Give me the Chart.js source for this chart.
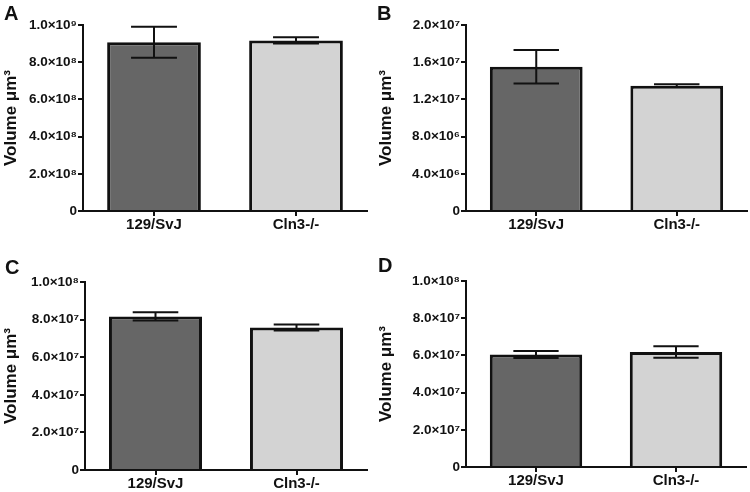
<!DOCTYPE html>
<html>
<head>
<meta charset="utf-8">
<script src="https://cdn.jsdelivr.net/npm/chart.js@4.4.1/dist/chart.umd.min.js"></script>
<style>
  body { margin: 0; background: #fff; }
  #wrap { position: relative; width: 750px; height: 492px; }
  .panel { position: absolute; width: 375px; height: 246px; }
  .tag { position: absolute; font: bold 20px "Liberation Sans", Arial, sans-serif; color: #111; }
</style>
</head>
<body>
<div id="wrap">
  <div class="panel" style="left:0;top:0"><canvas id="chartA" width="375" height="246"></canvas></div>
  <div class="panel" style="left:375px;top:0"><canvas id="chartB" width="375" height="246"></canvas></div>
  <div class="panel" style="left:0;top:246px"><canvas id="chartC" width="375" height="246"></canvas></div>
  <div class="panel" style="left:375px;top:246px"><canvas id="chartD" width="375" height="246"></canvas></div>
  <div class="tag" style="left:4px;top:2px">A</div>
  <div class="tag" style="left:377px;top:2px">B</div>
  <div class="tag" style="left:5px;top:256px">C</div>
  <div class="tag" style="left:378px;top:254px">D</div>
</div>
<script>
// categories and values (mean, +/- error)
var strains = ['129/SvJ', 'Cln3-/-'];

var volumeA = [9.07e8, 9.17e8];
var errorA = [0.83e8, 0.17e8];
var volumeB = [1.55e7, 1.347e7];
var errorB = [0.18e7, 0.015e7];
var volumeC = [8.17e7, 7.58e7];
var errorC = [0.22e7, 0.16e7];
var volumeD = [6.05e7, 6.18e7];
var errorD = [0.19e7, 0.31e7];

var ticksA = ['0', '2.0×10⁸', '4.0×10⁸', '6.0×10⁸', '8.0×10⁸', '1.0×10⁹'];
var ticksB = ['0', '4.0×10⁶', '8.0×10⁶', '1.2×10⁷', '1.6×10⁷', '2.0×10⁷'];
var ticksC = ['0', '2.0×10⁷', '4.0×10⁷', '6.0×10⁷', '8.0×10⁷', '1.0×10⁸'];
var ticksD = ['0', '2.0×10⁷', '4.0×10⁷', '6.0×10⁷', '8.0×10⁷', '1.0×10⁸'];

var FONT = '"Liberation Sans", Arial, sans-serif';
var INK = '#111';

// draws mean +/- error whiskers on top of each bar
var errorBars = {
    id: 'errorBars',
    afterDatasetsDraw: function (chart) {
        var ctx = chart.ctx;
        var y = chart.scales.y;
        var ds = chart.data.datasets[0];
        var meta = chart.getDatasetMeta(0);
        ctx.save();
        ctx.strokeStyle = INK;
        ctx.lineWidth = 2;
        meta.data.forEach(function (bar, i) {
            var hi = y.getPixelForValue(ds.data[i] + ds.errors[i]);
            var lo = y.getPixelForValue(ds.data[i] - ds.errors[i]);
            var half = bar.width * 0.245;
            ctx.beginPath();
            ctx.moveTo(bar.x, hi); ctx.lineTo(bar.x, lo);
            ctx.moveTo(bar.x - half, hi); ctx.lineTo(bar.x + half, hi);
            ctx.moveTo(bar.x - half, lo); ctx.lineTo(bar.x + half, lo);
            ctx.stroke();
        });
        ctx.restore();
    }
};

function makePanel(id, values, errors, tickLabels, box) {
    // tick values come from the label list: 0..max in 5 steps
    var max = parseFloat(tickLabels[5]) * Math.pow(10, box.exp);
    var step = max / 5;

    return new Chart(document.getElementById(id), {
        type: 'bar',
        data: {
            labels: strains,
            datasets: [{
                data: values,
                errors: errors,
                backgroundColor: ['#666666', '#d3d3d3'],
                borderColor: INK,
                borderWidth: 3,
                borderSkipped: 'bottom',
                barPercentage: 0.66,
                categoryPercentage: 1
            }]
        },
        options: {
            responsive: false,
            animation: false,
            layout: { padding: { top: box.top, right: 375 - box.right, left: 0, bottom: 0 } },
            plugins: { legend: { display: false }, tooltip: { enabled: false } },
            scales: {
                x: {
                    afterFit: function (s) { s.height = 246 - box.bottom; },
                    border: { display: true, color: INK, width: 2 },
                    grid: { display: true, offset: false, drawOnChartArea: false, tickLength: 5, color: INK, lineWidth: 2 },
                    ticks: { color: INK, padding: 0, font: { family: FONT, size: 15, weight: 'bold' } }
                },
                y: {
                    min: 0,
                    max: max,
                    afterFit: function (s) { s.width = box.left; },
                    afterBuildTicks: function (s) {
                        s.ticks = tickLabels.map(function (t, i) { return { value: i * step }; });
                    },
                    border: { display: true, color: INK, width: 2 },
                    grid: { display: true, drawOnChartArea: false, tickLength: 5, color: INK, lineWidth: 2 },
                    ticks: {
                        color: INK,
                        padding: 1,
                        font: { family: FONT, size: 13.5, weight: 'bold' },
                        callback: function (v, i) { return tickLabels[i]; }
                    },
                    title: {
                        display: true,
                        text: 'Volume μm³',
                        color: INK,
                        padding: { top: 1, bottom: 0 },
                        font: { family: FONT, size: 17, weight: 'bold' }
                    }
                }
            }
        },
        plugins: [errorBars]
    });
}

makePanel('chartA', volumeA, errorA, ticksA, { left: 83, top: 25, right: 367, bottom: 211, exp: 9 });
makePanel('chartB', volumeB, errorB, ticksB, { left: 91, top: 25, right: 372, bottom: 211, exp: 7 });
makePanel('chartC', volumeC, errorC, ticksC, { left: 85, top: 36, right: 367, bottom: 224, exp: 8 });
makePanel('chartD', volumeD, errorD, ticksD, { left: 91, top: 35, right: 371, bottom: 221, exp: 8 });
</script>
</body>
</html>
